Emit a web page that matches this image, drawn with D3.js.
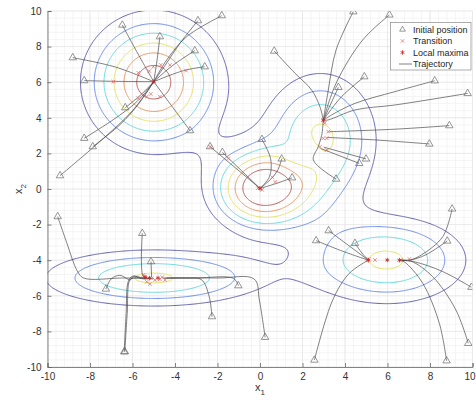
<!DOCTYPE html>
<html>
<head>
<meta charset="utf-8">
<script src="https://cdn.jsdelivr.net/npm/d3@7"></script>
<style>
body { margin: 0; background: #fff; }
svg { display: block; font-family: "Liberation Sans", Arial, sans-serif; }
</style>
</head>
<body>
<div id="chart"></div>
<script>
// axis ticks
var xTicks = [-10, -8, -6, -4, -2, 0, 2, 4, 6, 8, 10];
var yTicks = [-10, -8, -6, -4, -2, 0, 2, 4, 6, 8, 10];

// the surface: gaussian bumps (centre, height, spread), last two shape the saddles
var bumpX  = [-5, 2.85, 0.05, -5, 6, 1.8, -2.4];
var bumpY  = [6, 2.75, 0, -5, -4, 1.75, 2.2];
var bumpW  = [1.0, 0.69, 1.02, 0.668, 0.67, -0.22, 0.03];
var bumpSx = [2.0, 1.75, 1.55, 3.45, 2.5, 0.9, 0.8];
var bumpSy = [2.35, 2.5, 1.5, 1.07, 1.65, 0.9, 0.8];
var levels = [0.226, 0.375, 0.504, 0.646, 0.783, 0.923];
var levelColors = ["#5454a6", "#5f82e6", "#5ad6dc", "#e2e05a", "#e8905a", "#b0504c"];

// trajectories, first point = initial position
var trajA = [
  [[-6.48, 9.21], [-5.7, 7.5], [-5.0, 6.03]],
  [[-4.71, 8.56], [-4.85, 7.2], [-5.0, 6.03]],
  [[-8.81, 7.38], [-6.8, 6.85], [-5.0, 6.03]],
  [[-3.07, 7.77], [-4.1, 6.95], [-5.0, 6.03]],
  [[-2.60, 6.87], [-3.6, 6.65], [-5.0, 6.03]],
  [[-8.27, 6.09], [-6.9, 6.05], [-5.0, 6.03]],
  [[-6.34, 4.57], [-5.6, 5.3], [-5.0, 6.03]],
  [[-3.29, 3.28], [-4.3, 4.9], [-5.0, 6.03]],
  [[-8.27, 2.85], [-6.9, 3.9], [-5.8, 4.9], [-5.0, 6.03]],
  [[-7.87, 2.38], [-6.6, 3.6], [-5.7, 4.8], [-5.0, 6.03]],
  [[-9.41, 0.75], [-7.6, 2.6], [-6.0, 4.4], [-5.0, 6.03]],
  [[-2.92, 9.46], [-3.76, 8.2], [-4.39, 7.08], [-5.0, 6.03]],
  [[-1.80, 9.74], [-3.45, 8.56], [-4.39, 7.25], [-5.0, 6.03]]
];
var trajB = [
  [[4.39, 9.96], [3.58, 7.81], [3.19, 5.38], [2.98, 3.86]],
  [[6.09, 9.78], [4.83, 8.37], [3.58, 5.94], [2.98, 3.86]],
  [[0.67, 7.75], [1.65, 6.5], [2.43, 5.56], [2.82, 4.62], [2.98, 3.86]],
  [[4.91, 6.31], [3.84, 5.19], [3.21, 4.25], [2.98, 3.86]],
  [[3.69, 5.71], [3.3, 4.7], [2.98, 3.86]],
  [[8.22, 6.08], [6.35, 5.47], [4.47, 4.81], [3.37, 4.16], [2.98, 3.86]],
  [[9.77, 5.37], [6.35, 4.72], [4.47, 4.44], [3.21, 3.88], [2.98, 3.86]],
  [[8.91, 3.56], [6.35, 3.36], [3.26, 3.22]],
  [[7.97, 2.53], [5.5, 2.75], [3.14, 2.9]],
  [[4.99, 1.69], [3.0, 2.35]],
  [[4.67, 1.44], [2.85, 2.28]],
  [[3.58, 0.56], [2.51, 1.63], [2.74, 2.38], [2.9, 3.0], [2.98, 3.86]]
];
var trajC = [
  [[-2.35, 2.38], [0.0, 0.03]],
  [[-1.77, 2.06], [0.0, 0.03]],
  [[0.09, 2.79], [0.5, 1.7], [0.45, 0.7], [0.0, 0.03]],
  [[1.02, 1.69], [0.85, 1.1], [0.55, 0.6], [0.0, 0.03]],
  [[1.51, 0.63], [0.79, 0.32], [0.0, 0.03]]
];
var trajD = [
  [[-9.52, -1.55], [-9.1, -3.0], [-8.6, -4.6], [-8.3, -5.0], [-6.5, -5.0], [-5.3, -5.0]],
  [[-5.54, -2.49], [-5.5, -4.9], [-5.3, -5.0]],
  [[-5.13, -4.08], [-5.1, -4.95]],
  [[-7.25, -5.62], [-7.0, -5.05], [-6.6, -4.85], [-6.1, -5.1], [-5.95, -4.9], [-5.5, -5.05], [-5.2, -5.0]],
  [[-6.39, -9.14], [-6.3, -7.0], [-6.2, -5.2], [-6.0, -4.9], [-5.5, -5.0], [-5.0, -5.02]],
  [[-6.36, -9.14], [-6.25, -7.0], [-6.12, -5.1], [-5.9, -5.0], [-5.3, -5.05]],
  [[-2.26, -7.17], [-2.4, -6.0], [-2.75, -5.1], [-3.5, -5.0], [-4.4, -5.0]],
  [[-1.02, -5.43], [-1.25, -5.02], [-3.0, -5.0], [-4.5, -5.02]],
  [[0.24, -8.33], [-0.03, -6.24], [-0.27, -5.06], [-2.0, -5.0], [-4.6, -5.0]]
];
var trajE = [
  [[3.23, -2.34], [4.2, -3.2], [5.1, -4.0]],
  [[2.64, -2.90], [3.9, -3.5], [5.1, -4.0]],
  [[4.47, -3.05], [4.8, -3.6], [5.1, -4.0]],
  [[2.56, -9.61], [3.42, -6.24], [4.2, -4.74], [5.1, -4.0]],
  [[9.04, -1.12], [8.6, -2.68], [7.6, -3.7], [7.03, -4.0], [6.6, -4.0]],
  [[8.81, -2.92], [7.8, -3.7], [7.03, -4.0], [6.6, -4.0]],
  [[9.95, -5.52], [8.6, -4.64], [7.3, -4.1], [6.6, -4.0]],
  [[9.80, -8.67], [9.22, -6.8], [8.13, -4.93], [7.1, -4.05], [6.6, -4.0]],
  [[8.78, -9.65], [8.44, -7.55], [7.66, -5.3], [6.8, -4.1], [6.56, -4.0]]
];

var transitions = [
  [-6.9, 6.03], [-5.73, 6.53], [-5.21, 6.63], [-5.02, 6.87], [-4.67, 6.97], [-4.24, 6.97],
  [-3.48, 6.65], [-5.73, 5.1], [-5.33, 5.19], [-5.14, 5.34], [-4.71, 5.19],
  [2.98, 3.88], [3.21, 3.22], [2.98, 2.85], [3.14, 2.85], [2.82, 2.38], [3.14, 2.19], [3.05, 3.7],
  [-2.35, 2.38], [-1.49, 1.72], [0.58, 0.66], [0.72, 0.4], [-0.1, 0.05], [0.1, -0.05],
  [-5.41, -4.93], [-5.33, -5.21], [-5.1, -5.02], [-4.94, -5.11], [-4.71, -5.07], [-4.47, -5.11],
  [-5.18, -5.34], [-5.49, -4.83], [-4.6, -4.95],
  [5.02, -3.99], [5.1, -3.93], [5.41, -3.99], [6.64, -3.99], [7.03, -3.93]
];
var maxima = [
  [-5.0, 6.03], [2.98, 3.86], [0.0, 0.03], [-5.41, -4.95], [-5.2, -5.0], [-4.8, -5.0],
  [5.1, -4.0], [5.99, -3.99], [6.56, -4.0]
];

var svgWidth = 476, svgHeight = 403;
var margin = {left: 47.5, right: 3.5, top: 11, bottom: 36};

var svg = d3.select("#chart").append("svg")
  .attr("width", svgWidth).attr("height", svgHeight);

var x = d3.scaleLinear().domain([-10, 10]).range([margin.left, svgWidth - margin.right]);
var y = d3.scaleLinear().domain([-10, 10]).range([svgHeight - margin.bottom, margin.top]);

svg.append("defs").append("clipPath").attr("id", "plotclip")
  .append("rect")
  .attr("x", x(-10)).attr("y", y(10))
  .attr("width", x(10) - x(-10)).attr("height", y(-10) - y(10));

// grid (minor every 0.4, major every 2)
var minor = d3.range(-10, 10.001, 0.4);
var gridG = svg.append("g");
gridG.selectAll(".mx").data(minor).enter().append("line")
  .attr("x1", d => x(d)).attr("x2", d => x(d))
  .attr("y1", y(-10)).attr("y2", y(10))
  .attr("stroke", "#efefef").attr("stroke-width", 0.6);
gridG.selectAll(".my").data(minor).enter().append("line")
  .attr("y1", d => y(d)).attr("y2", d => y(d))
  .attr("x1", x(-10)).attr("x2", x(10))
  .attr("stroke", "#efefef").attr("stroke-width", 0.6);
gridG.selectAll(".Mx").data(xTicks).enter().append("line")
  .attr("x1", d => x(d)).attr("x2", d => x(d))
  .attr("y1", y(-10)).attr("y2", y(10))
  .attr("stroke", "#e2e2e2").attr("stroke-width", 0.6);
gridG.selectAll(".My").data(yTicks).enter().append("line")
  .attr("y1", d => y(d)).attr("y2", d => y(d))
  .attr("x1", x(-10)).attr("x2", x(10))
  .attr("stroke", "#e2e2e2").attr("stroke-width", 0.6);

// surface values on a grid a bit larger than the axes
function surf(px, py) {
  var s = 0;
  for (var k = 0; k < bumpX.length; k++) {
    var dx = (px - bumpX[k]) / bumpSx[k], dy = (py - bumpY[k]) / bumpSy[k];
    s += bumpW[k] * Math.exp(-0.5 * (dx * dx + dy * dy));
  }
  return s;
}
var step = 0.05, g0 = -11, n = Math.round(22 / step) + 1;
var values = new Array(n * n);
for (var j = 0; j < n; j++) {
  for (var i = 0; i < n; i++) {
    values[j * n + i] = surf(g0 + i * step, g0 + j * step);
  }
}
var contours = d3.contours().size([n, n]).thresholds(levels)(values);
var proj = d3.geoTransform({
  point: function(px, py) {
    this.stream.point(x(g0 + (px - 0.5) * step), y(g0 + (py - 0.5) * step));
  }
});
var path = d3.geoPath(proj);

var plot = svg.append("g").attr("clip-path", "url(#plotclip)");
plot.selectAll(".contour").data(contours).enter().append("path")
  .attr("d", path)
  .attr("fill", "none")
  .attr("stroke", (d, k) => levelColors[k])
  .attr("stroke-width", 0.9);

// trajectories
var allTraj = trajA.concat(trajB, trajC, trajD, trajE);
var line = d3.line()
  .x(d => x(d[0])).y(d => y(d[1]))
  .curve(d3.curveCatmullRom.alpha(0.5));
plot.selectAll(".traj").data(allTraj).enter().append("path")
  .attr("d", line)
  .attr("fill", "none")
  .attr("stroke", "#4a4a4a")
  .attr("stroke-width", 0.7);

var triSym = d3.symbol().type(d3.symbolTriangle).size(24);
var timesSym = d3.symbol().type(d3.symbolTimes || d3.symbolCross).size(10);
var starSym = d3.symbol().type(d3.symbolAsterisk || d3.symbolCross).size(14);

plot.selectAll(".start").data(allTraj.map(t => t[0])).enter().append("path")
  .attr("d", triSym)
  .attr("transform", d => `translate(${x(d[0])},${y(d[1])})`)
  .attr("fill", "none").attr("stroke", "#6a6a6a").attr("stroke-width", 0.7);

plot.selectAll(".trans").data(transitions).enter().append("path")
  .attr("d", timesSym)
  .attr("transform", d => `translate(${x(d[0])},${y(d[1])})`)
  .attr("fill", "none").attr("stroke", "#e86060").attr("stroke-width", 0.7);

plot.selectAll(".maxi").data(maxima).enter().append("path")
  .attr("d", starSym)
  .attr("transform", d => `translate(${x(d[0])},${y(d[1])})`)
  .attr("fill", "none").attr("stroke", "#cc2020").attr("stroke-width", 0.8);

// axes (left + bottom only)
var bottomAxis = d3.axisBottom(x).tickValues(xTicks).tickSize(-4).tickPadding(6);
var leftAxis = d3.axisLeft(y).tickValues(yTicks).tickSize(-4).tickPadding(6);

var gx = svg.append("g").attr("transform", `translate(0, ${y(-10)})`).call(bottomAxis);
var gy = svg.append("g").attr("transform", `translate(${x(-10)}, 0)`).call(leftAxis);
[gx, gy].forEach(function(g) {
  g.select(".domain").attr("stroke", "#666").attr("stroke-width", 0.8);
  g.selectAll(".tick line").attr("stroke", "#666").attr("stroke-width", 0.8);
  g.selectAll(".tick text").attr("fill", "#333").style("font-size", "10px")
    .style("font-family", "'Liberation Sans', Arial, sans-serif")
    .text(d => String(d));
});
// keep the last x label inside the window
gx.selectAll(".tick text").filter(d => d === 10).attr("dx", -3);

// axis labels
var xl = svg.append("text")
  .attr("x", 260).attr("y", 391)
  .attr("text-anchor", "middle")
  .attr("fill", "#333").style("font-size", "11px");
xl.append("tspan").text("x");
xl.append("tspan").attr("dy", 4).style("font-size", "8px").text("1");

var yl = svg.append("text")
  .attr("transform", `translate(22, ${y(0)}) rotate(-90)`)
  .attr("text-anchor", "middle")
  .attr("fill", "#333").style("font-size", "11px");
yl.append("tspan").text("x");
yl.append("tspan").attr("dy", 4).style("font-size", "8px").text("2");

// legend
var lg = svg.append("g");
lg.append("rect")
  .attr("x", 390.5).attr("y", 22.5).attr("width", 80.5).attr("height", 47.5)
  .attr("fill", "#fff").attr("stroke", "#8a8a8a").attr("stroke-width", 0.7);
var legendRows = ["Initial position", "Transition", "Local maxima", "Trajectory"];
lg.selectAll(".lt").data(legendRows).enter().append("text")
  .attr("x", 413).attr("y", (d, k) => 32.5 + k * 11.5)
  .attr("fill", "#262626").style("font-size", "9px")
  .text(d => d);
lg.append("path").attr("d", d3.symbol().type(d3.symbolTriangle).size(14))
  .attr("transform", "translate(402.5,29.5)")
  .attr("fill", "none").attr("stroke", "#6a6a6a").attr("stroke-width", 0.7);
lg.append("path").attr("d", timesSym)
  .attr("transform", "translate(402.5,41)")
  .attr("fill", "none").attr("stroke", "#e86060").attr("stroke-width", 0.7);
lg.append("path").attr("d", starSym)
  .attr("transform", "translate(402.5,52.5)")
  .attr("fill", "none").attr("stroke", "#cc2020").attr("stroke-width", 0.8);
lg.append("line")
  .attr("x1", 399).attr("x2", 412).attr("y1", 64).attr("y2", 64)
  .attr("stroke", "#4a4a4a").attr("stroke-width", 0.7);
</script>
</body>
</html>
